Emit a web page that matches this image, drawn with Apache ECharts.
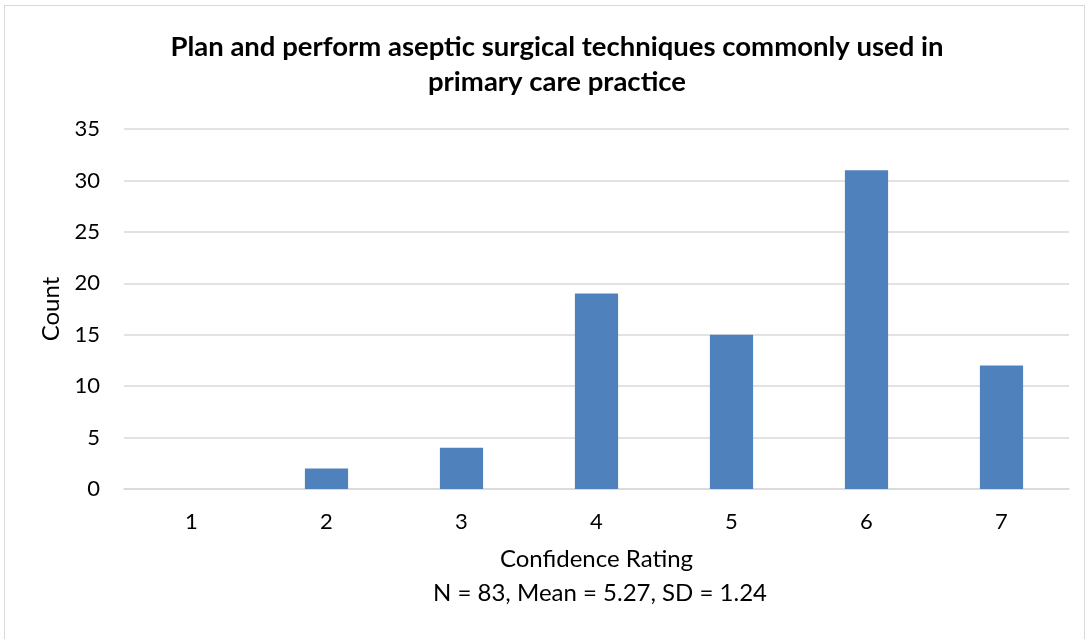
<!DOCTYPE html>
<html lang="en">
<head>
    <meta charset="UTF-8">
    <title>Confidence Rating</title>
    <style>
        *{
            margin: 0;
            padding: 0;
        }
        body,html{
            width: 100%;
            height: 100%;
            background: #fff;
        }
        #frame{
            position: absolute;
            left: 4px;
            top: 5px;
            width: 1081px;
            height: 640px;
            border: 1px solid #d9d9d9;
            box-sizing: border-box;
        }
        #main{
            position: absolute;
            left: 0;
            top: 0;
            width: 1090px;
            height: 639px;
        }
    </style>
</head>
<body>
<div id="frame"></div>
<div id="main"></div>

<script src="https://cdn.jsdelivr.net/npm/echarts@6/dist/echarts.min.js"></script>
<script type="text/javascript">
    // 数据
    var ratings = ['1', '2', '3', '4', '5', '6', '7'];
    var counts = [0, 2, 4, 19, 15, 31, 12];
    var yTicks = [0, 5, 10, 15, 20, 25, 30, 35];

    var font = 'Lato, "Open Sans", sans-serif';
    var myChart = echarts.init(document.getElementById('main'));

    var option = {
        textStyle: {fontFamily: font},
        title: [{
            text: 'Plan and perform aseptic surgical techniques commonly used in\nprimary care practice',
            left: 552,
            top: 25,
            textAlign: 'center',
            textStyle: {
                fontFamily: font,
                fontSize: 27.5,
                fontWeight: 'bold',
                color: '#000',
                lineHeight: 35
            }
        }, {
            text: 'N = 83, Mean = 5.27, SD = 1.24',
            left: 595,
            top: 576,
            textAlign: 'center',
            textStyle: {
                fontFamily: font,
                fontSize: 24,
                fontWeight: 'normal',
                color: '#000'
            }
        }],
        grid: {
            left: 124,
            right: 21,
            top: 129,
            bottom: 150
        },
        xAxis: {
            type: 'category',
            data: ratings,
            name: 'Confidence Rating',
            nameLocation: 'middle',
            nameGap: 58,
            nameTextStyle: {fontSize: 24, color: '#000', fontFamily: font},
            axisLine: {lineStyle: {color: '#d9d9d9', width: 1.5}},
            axisTick: {show: false},
            axisLabel: {fontSize: 22, color: '#000', margin: 22, fontFamily: font}
        },
        yAxis: {
            type: 'value',
            min: yTicks[0],
            max: yTicks[yTicks.length - 1],
            interval: 5,
            name: 'Count',
            nameLocation: 'middle',
            nameGap: 57,
            nameTextStyle: {fontSize: 24, color: '#000', fontFamily: font},
            axisLine: {show: false},
            axisTick: {show: false},
            axisLabel: {fontSize: 22, color: '#000', margin: 24, fontFamily: font},
            splitLine: {lineStyle: {color: '#d9d9d9', width: 1.5}}
        },
        series: [{
            name: 'Count',
            type: 'bar',
            data: counts,
            barWidth: '32%',
            itemStyle: {
                color: '#4f81bd'
            }
        }]
    };
    myChart.setOption(option);
</script>
</body>
</html>
